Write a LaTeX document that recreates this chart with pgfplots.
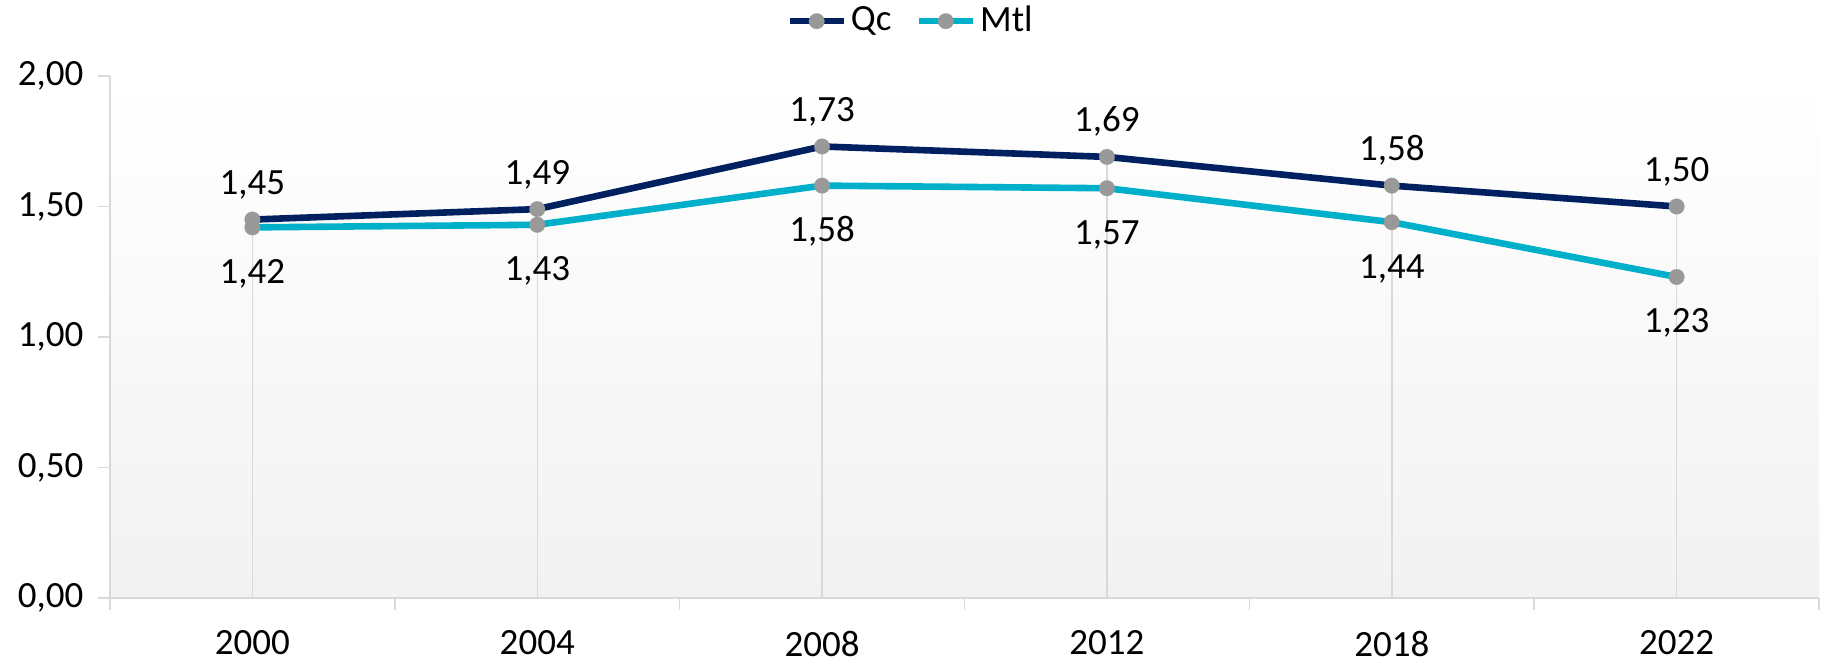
\documentclass[border=0pt]{standalone}
\usepackage{pgfplots}
\pgfplotsset{compat=1.18}
\usepackage{fontspec}
\setmainfont{Carlito}
\definecolor{qc}{HTML}{002060}
\definecolor{mtl}{HTML}{00B0CA}
\definecolor{mk}{HTML}{999999}
\definecolor{axgray}{HTML}{D9D9D9}
\definecolor{bg}{HTML}{F2F2F2}
\begin{document}
\fontsize{18.5}{22}\selectfont
\begin{tikzpicture}
\useasboundingbox (-55pt,-36.5pt) rectangle (857.5pt,299pt);
\begin{axis}[
  at={(0,0)}, anchor=south west,
  scale only axis, width=854.5pt, height=261pt,
  xmin=-0.5, xmax=5.5, ymin=0, ymax=2,
  axis x line*=bottom, axis y line*=left,
  axis line style={axgray, line width=0.75pt, -},
  axis background/.style={top color=white, bottom color=bg},
  xtick={0,1,2,3,4,5},
  xticklabels={2000,2004,2008,2012,2018,2022},
  xticklabel style={yshift=-4pt},
  minor xtick={-0.5,0.5,1.5,2.5,3.5,4.5,5.5},
  major x tick style={draw=none},
  minor x tick style={axgray, line width=0.75pt},
  minor tick length=6pt,
  major tick length=6pt,
  ytick={0,0.5,1,1.5,2},
  tick align=outside,
  tick style={axgray, line width=0.75pt},
  /pgf/number format/assume math mode=true,
  yticklabel style={xshift=-1pt, /pgf/number format/.cd, fixed, fixed zerofill, precision=2, use comma},
  legend style={at={(0.469,1.105)}, anchor=center, draw=none, fill=none,
    legend columns=-1, /tikz/every even column/.append style={column sep=10pt}},
  legend image code/.code={\draw[mark repeat=2,mark phase=2,#1] plot coordinates {(0pt,0pt) (13.5pt,0pt) (27pt,0pt)};},
  clip=false,
]
\addplot[ycomb, axgray, line width=0.75pt, no markers, forget plot]
  coordinates {(0,1.45) (1,1.49) (2,1.73) (3,1.69) (4,1.58) (5,1.50)};
\addplot[qc, line width=3.3pt, mark=*, mark options={fill=mk, draw=mk, line width=0.1pt, mark size=3.9pt},
  nodes near coords={\pgfmathprintnumber[fixed,fixed zerofill,precision=2,use comma,assume math mode=true]{\pgfplotspointmeta}},
  every node near coord/.style={anchor=base, yshift=12.5pt, text=black}]
  coordinates {(0,1.45) (1,1.49) (2,1.73) (3,1.69) (4,1.58) (5,1.50)};
\addlegendentry{Qc}
\addplot[mtl, line width=3.3pt, mark=*, mark options={fill=mk, draw=mk, line width=0.1pt, mark size=3.9pt},
  nodes near coords={\pgfmathprintnumber[fixed,fixed zerofill,precision=2,use comma,assume math mode=true]{\pgfplotspointmeta}},
  every node near coord/.style={anchor=base, yshift=-28pt, text=black}]
  coordinates {(0,1.42) (1,1.43) (2,1.58) (3,1.57) (4,1.44) (5,1.23)};
\addlegendentry{Mtl}
\end{axis}
\end{tikzpicture}
\end{document}
